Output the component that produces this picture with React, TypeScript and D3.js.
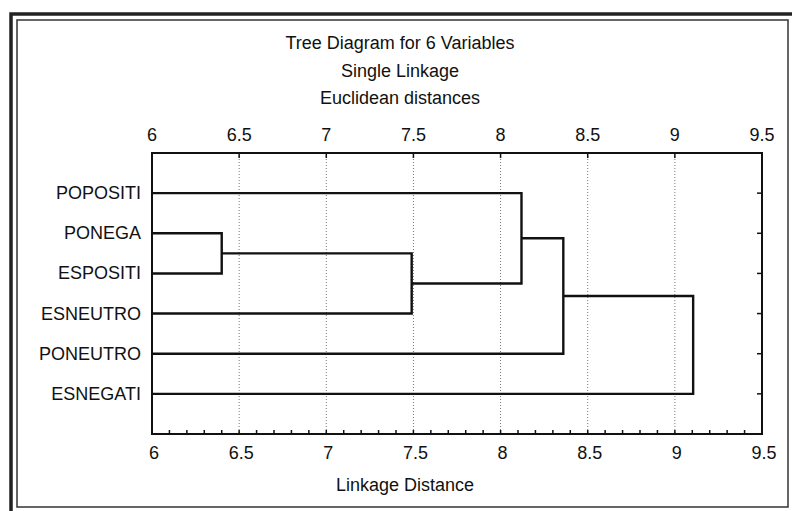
import React from "react";
import * as d3 from "d3";

const titleLines = ["Tree Diagram for 6 Variables", "Single Linkage", "Euclidean distances"];
const xAxisTitle = "Linkage Distance";
const leaves = ["POPOSITI", "PONEGA", "ESPOSITI", "ESNEUTRO", "PONEUTRO", "ESNEGATI"];
// merges: [childA, childB, distance]; children are leaf names or earlier merge ids "m0".."m4"
const mergeA = ["PONEGA", "m0", "POPOSITI", "m2", "m3"];
const mergeB = ["ESPOSITI", "ESNEUTRO", "m1", "PONEUTRO", "ESNEGATI"];
const mergeDist = [6.4, 7.49, 8.12, 8.36, 9.105];
const majorTicks = [6, 6.5, 7, 7.5, 8, 8.5, 9, 9.5];
const gridTicks = [6.5, 7, 7.5, 8, 8.5, 9];

const W = 792;
const H = 511;
const left = 152;
const right = 762;
const top = 153;
const bottom = 434;
const FONT = "'Liberation Sans', Arial, sans-serif";

export default function App() {
  const x = d3.scaleLinear().domain([6, 9.5]).range([left, right]);
  const y = d3.scaleLinear().domain([-1, 6]).range([top, bottom]);

  const pos: Record<string, { x: number; y: number }> = {};
  leaves.forEach((l, i) => (pos[l] = { x: x(6), y: y(i) }));
  const segs: string[] = [];
  mergeDist.forEach((d, i) => {
    const a = pos[mergeA[i]];
    const b = pos[mergeB[i]];
    const mx = x(d);
    segs.push(`M${a.x},${a.y}H${mx}V${b.y}H${b.x}`);
    pos["m" + i] = { x: mx, y: (a.y + b.y) / 2 };
  });

  const minorTicks = d3.range(60, 96).map((v) => v / 10);

  return (
    <div style={{ position: "fixed", left: 0, top: 0, width: W, height: H, background: "#fff" }}>
      <svg width={W} height={H} style={{ display: "block" }}>
        <rect x={0} y={0} width={W} height={H} fill="#fff" />
        {/* frames */}
        <rect x={11} y={14} width={790} height={500} fill="none" stroke="#222" strokeWidth={3.5} />
        <rect x={17} y={20} width={771} height={487} fill="none" stroke="#333" strokeWidth={1.5} />

        {/* titles */}
        {titleLines.map((t, i) => (
          <text key={t} x={400} y={49 + i * 27.5} textAnchor="middle" fontFamily={FONT} fontSize={18} fill="#111">
            {t}
          </text>
        ))}

        {/* grid */}
        {gridTicks.map((v) => (
          <line key={"g" + v} x1={x(v)} x2={x(v)} y1={top} y2={bottom} stroke="#777" strokeWidth={1} strokeDasharray="1,2" />
        ))}

        {/* plot frame */}
        <rect x={left} y={top} width={right - left} height={bottom - top} fill="none" stroke="#111" strokeWidth={2} />

        {/* bottom minor ticks */}
        {minorTicks.map((v) => (
          <line key={"mt" + v} x1={x(v)} x2={x(v)} y1={bottom} y2={bottom - 4} stroke="#111" strokeWidth={1.5} />
        ))}
        {/* top major ticks */}
        {majorTicks.map((v) => (
          <line key={"tt" + v} x1={x(v)} x2={x(v)} y1={top} y2={top + 5} stroke="#111" strokeWidth={1.5} />
        ))}
        {/* right ticks */}
        {leaves.map((l, i) => (
          <line key={"rt" + l} x1={right} x2={right - 5} y1={y(i)} y2={y(i)} stroke="#111" strokeWidth={1.5} />
        ))}

        {/* tick labels */}
        {majorTicks.map((v) => (
          <text key={"tl" + v} x={x(v)} y={141} textAnchor="middle" fontFamily={FONT} fontSize={18} fill="#111">
            {String(v)}
          </text>
        ))}
        {majorTicks.map((v) => (
          <text key={"bl" + v} x={x(v) + 2} y={459} textAnchor="middle" fontFamily={FONT} fontSize={18} fill="#111">
            {String(v)}
          </text>
        ))}

        {/* leaf labels */}
        {leaves.map((l, i) => (
          <text key={"ll" + l} x={141} y={y(i) + 6} textAnchor="end" fontFamily={FONT} fontSize={18} fill="#111">
            {l}
          </text>
        ))}

        {/* dendrogram */}
        {segs.map((d, i) => (
          <path key={"s" + i} d={d} fill="none" stroke="#111" strokeWidth={2.4} />
        ))}

        <text x={405} y={491} textAnchor="middle" fontFamily={FONT} fontSize={18} fill="#111">
          {xAxisTitle}
        </text>
      </svg>
    </div>
  );
}
